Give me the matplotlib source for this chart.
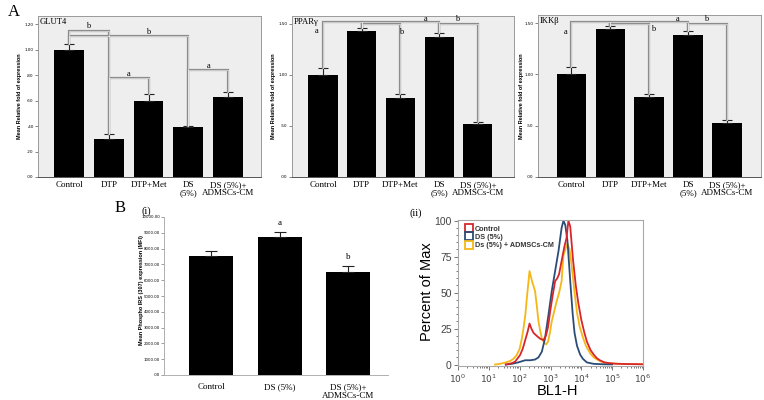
import numpy as np
import matplotlib
matplotlib.use('Agg')
import matplotlib.pyplot as plt
from matplotlib.ticker import FuncFormatter, MultipleLocator, LogLocator, NullFormatter
from matplotlib.lines import Line2D

# ---------------- data ----------------
groups = ["Control", "DTP", "DTP+Met", "DS\n(5%)", "DS (5%)+\nADMSCs-CM"]

glut4_mean = [1.00, 0.30, 0.60, 0.39, 0.63]
glut4_err = [0.04, 0.035, 0.055, 0.01, 0.04]
pparg_mean = [1.00, 1.43, 0.77, 1.37, 0.52]
pparg_err = [0.07, 0.03, 0.04, 0.04, 0.02]
ikkb_mean = [1.00, 1.44, 0.78, 1.38, 0.53]
ikkb_err = [0.07, 0.03, 0.03, 0.04, 0.03]

# significance brackets: (group i, group j, bracket level, letter, letter x, letter y)
glut4_sig = [(0, 1, 1.145, "b", 0.48, 1.185), (0, 3, 1.105, "b", 2.0, 1.14),
             (1, 2, 0.776, "a", 1.5, 0.81), (3, 4, 0.84, "a", 3.5, 0.87)]
pparg_sig = [(0, 1, 1.52, "a", -0.17, 1.43), (1, 2, 1.50, "b", 2.02, 1.42),
             (1, 3, 1.52, "a", 2.66, 1.545), (3, 4, 1.50, "b", 3.45, 1.545)]
ikkb_sig = [(0, 1, 1.51, "a", -0.15, 1.41), (1, 2, 1.49, "b", 2.1, 1.44),
            (1, 3, 1.51, "a", 2.74, 1.535), (3, 4, 1.49, "b", 3.46, 1.535)]

irs_groups = ["Control", "DS (5%)", "DS (5%)+\nADMSCs-CM"]
irs_mean = [7530, 8750, 6550]
irs_err = [310, 320, 360]
irs_letters = ["", "a", "b"]

# flow histogram (log10 BL1-H, percent of max)
ctrl_log = [1.55, 1.75, 1.85, 2.01, 2.10, 2.18, 2.26, 2.32, 2.38, 2.45, 2.55, 2.66, 2.77, 2.85,
            2.92, 2.99, 3.07, 3.15, 3.22, 3.28, 3.36, 3.45, 3.52, 3.58, 3.64, 3.73, 3.82, 3.90,
            4.00, 4.10, 4.18, 4.30, 4.40, 4.50, 4.60, 4.75, 4.90, 5.10, 5.40, 5.70, 6.00]
ctrl_pct = [0, 1, 2, 6.5, 11, 17, 23, 28.5, 25, 22, 20, 18, 17, 20,
            26, 37, 48, 58, 60, 63, 72, 82, 88, 100, 96, 73, 55, 43,
            31, 22, 16, 10, 7, 4.5, 3, 1.5, 1, 0.6, 0.4, 0.3, 0.2]
ds_log = [1.55, 1.75, 1.95, 2.18, 2.35, 2.50, 2.61, 2.72, 2.82, 2.93, 3.04, 3.15, 3.26, 3.36,
          3.42, 3.48, 3.55, 3.64, 3.72, 3.78, 3.86, 3.96, 4.05, 4.18, 4.40, 4.70, 5.00]
ds_pct = [0, 0.5, 1.5, 3, 3, 3.5, 5, 9, 18, 34, 51, 65, 79, 95,
          100, 97, 86, 58, 35, 22, 13, 7, 4, 1.5, 0.5, 0.2, 0.1]
cm_log = [1.20, 1.36, 1.55, 1.69, 1.80, 1.90, 2.00, 2.07, 2.13, 2.18, 2.25, 2.32, 2.40, 2.50,
          2.56, 2.61, 2.67, 2.72, 2.80, 2.86, 2.92, 2.98, 3.04, 3.12, 3.20, 3.28, 3.36, 3.42,
          3.48, 3.55, 3.62, 3.70, 3.78, 3.86, 3.95, 4.05, 4.15, 4.28, 4.40, 4.55, 4.70, 4.90,
          5.20, 5.50, 5.80, 6.00]
cm_pct = [0, 0.5, 1.5, 2.5, 4, 6.5, 11, 18, 26, 34, 50, 65, 58, 51,
          40, 30, 23, 18, 15, 14, 16, 22, 30, 37, 44, 50, 58, 76,
          80, 84, 80, 66, 50, 36, 26, 19, 13, 8, 5, 3, 1.5, 1,
          0.5, 0.4, 0.3, 0.2]
flow_labels = ["Control", "DS (5%)", "Ds (5%) + ADMSCs-CM"]

# ---------------- styling ----------------
W, H = 764, 400
serif = "Liberation Serif"
sans = "Liberation Sans"
narrow = ["Liberation Sans Narrow", "Liberation Sans"]
panel_bg = "#eeeeee"
frame = "#9a9a9a"

fig = plt.figure(figsize=(W / 100, H / 100), dpi=100)


def px_axes(left, top, right, bottom):
    return fig.add_axes([left / W, 1 - bottom / H, (right - left) / W, (bottom - top) / H])


def spss_fmt(v, pos):
    s = f"{v:.2f}"
    return s[1:] if s.startswith("0") else s


def draw_bracket(ax, x1, x2, top, y1, y2):
    xs = [x1, x1, x2, x2]
    ys = [y1, top, top, y2]
    ax.plot(xs, ys, color="#8c8c8c", lw=1.6, solid_joinstyle="miter", zorder=4)
    ax.plot(xs, ys, color="#f2f2f2", lw=0.45, solid_joinstyle="miter", zorder=5)


def gene_panel(rect, means, errs, sig, name, ymax, ystep, xlim, ylab_x):
    ax = px_axes(*rect)
    x = np.arange(len(means))
    ax.set_facecolor(panel_bg)
    ax.bar(x, means, width=0.75, color="black", zorder=3)
    ax.errorbar(x, means, yerr=[[0] * len(errs), errs], fmt="none", ecolor="#222222",
                elinewidth=0.8, capsize=3.5, capthick=0.8, zorder=3)
    tops = [m + e for m, e in zip(means, errs)]
    for i, j, lev, letter, lx, ly in sig:
        draw_bracket(ax, i, j, lev, tops[i], tops[j])
        ax.text(lx, ly, letter, ha="center", va="center", fontsize=6, family=serif, zorder=6)
    ax.set_xlim(*xlim)
    ax.set_ylim(0, ymax)
    ax.yaxis.set_major_locator(MultipleLocator(ystep))
    ax.yaxis.set_major_formatter(FuncFormatter(spss_fmt))
    ax.tick_params(axis="y", labelsize=3, length=2.2, width=0.5, color="#555555", pad=1)
    ax.set_xticks(x)
    ax.set_xticklabels(groups, fontsize=6.5, family=serif, linespacing=1.05)
    ax.tick_params(axis="x", length=0, pad=3)
    for s in ax.spines.values():
        s.set_color(frame)
        s.set_linewidth(0.7)
    ax.spines["bottom"].set_color("#555555")
    ax.text(0.008, 0.985, name, transform=ax.transAxes, ha="left", va="top",
            fontsize=6.2, family=serif, zorder=6)
    fig.text(ylab_x / W, 1 - 96 / H, "Mean Relative fold of expression", rotation=90,
             ha="center", va="center", fontsize=4, fontweight="bold", family=sans)
    return ax


# ---------------- panel A ----------------
gene_panel((38, 16, 261, 177), glut4_mean, glut4_err, glut4_sig, "GLUT4", 1.263, 0.2,
           (-0.78, 4.83), 20)
gene_panel((292, 16, 514, 177), pparg_mean, pparg_err, pparg_sig, "PPARγ", 1.578, 0.5,
           (-0.8, 4.93), 273)
gene_panel((538, 15, 761, 177), ikkb_mean, ikkb_err, ikkb_sig, "IKKβ", 1.578, 0.5,
           (-0.85, 4.87), 522)

# ---------------- panel B(i) ----------------
ax = px_axes(164, 217, 388, 375)
xb = np.arange(len(irs_mean))
ax.bar(xb, irs_mean, width=0.64, color="black", zorder=3)
ax.errorbar(xb, irs_mean, yerr=[[0] * len(irs_err), irs_err], fmt="none", ecolor="#222222",
            elinewidth=0.8, capsize=4, capthick=0.8, zorder=3)
for i, letter in enumerate(irs_letters):
    if letter:
        ax.text(xb[i], irs_mean[i] + irs_err[i] + 580, letter, ha="center", va="center",
                fontsize=6.5, family=serif)
ax.set_xlim(-0.69, 2.58)
ax.set_ylim(0, 10000)
ax.yaxis.set_major_locator(MultipleLocator(1000))
ax.yaxis.set_major_formatter(FuncFormatter(spss_fmt))
ax.tick_params(axis="y", labelsize=2.8, length=2, width=0.5, color="#777777", pad=1)
ax.set_xticks(xb)
ax.set_xticklabels(irs_groups, fontsize=6.5, family=serif, linespacing=1.05)
ax.tick_params(axis="x", length=0, pad=6)
ax.spines["top"].set_visible(False)
ax.spines["right"].set_visible(False)
for s in ("left", "bottom"):
    ax.spines[s].set_color("#b0b0b0")
    ax.spines[s].set_linewidth(0.7)
fig.text(142 / W, 1 - 290 / H, "Mean Phospho IRS (307) expression (MFI)", rotation=90,
         ha="center", va="center", fontsize=4, fontweight="bold", family=sans)

# ---------------- panel B(ii) ----------------
ax = px_axes(458, 220, 643, 366)
colors = ["#d7262b", "#2c4c78", "#f5b716"]
ax.plot(10 ** np.array(cm_log), cm_pct, color=colors[2], lw=1.3)
ax.plot(10 ** np.array(ds_log), ds_pct, color=colors[1], lw=1.3)
ax.plot(10 ** np.array(ctrl_log), ctrl_pct, color=colors[0], lw=1.3)
ax.set_xscale("log")
ax.set_xlim(1, 1e6)
ax.set_ylim(-1, 100.5)
ax.set_yticks([0, 25, 50, 75, 100])
ax.yaxis.set_minor_locator(MultipleLocator(5))
ax.xaxis.set_major_locator(LogLocator(base=10, numticks=10))
ax.xaxis.set_minor_locator(LogLocator(base=10, subs=np.arange(2, 10), numticks=10))
ax.xaxis.set_minor_formatter(NullFormatter())
ax.tick_params(which="both", colors="#444444", width=0.5)
ax.tick_params(axis="y", labelsize=7.5)
ax.tick_params(axis="x", labelsize=6.5)
ax.tick_params(which="major", length=3, pad=1.5)
ax.tick_params(which="minor", length=1.5)
for lab in ax.get_yticklabels():
    lab.set_family(narrow)
for s in ax.spines.values():
    s.set_color("#a8a8a8")
    s.set_linewidth(0.8)
handles = [Line2D([], [], marker="s", ls="none", mfc="none", mec=c, mew=1.3, ms=5.5)
           for c in colors]
leg = ax.legend(handles, flow_labels, loc="upper left", bbox_to_anchor=(0.02, 0.99),
                frameon=False, handlelength=0.8, handletextpad=0.4, labelspacing=0.15,
                borderpad=0.1, prop={"family": sans, "size": 5.2, "weight": "bold"})
for t in leg.get_texts():
    t.set_color("#333333")
fig.text(427 / W, 1 - 292 / H, "Percent of Max", rotation=90, ha="center", va="center",
         fontsize=10.5, family=narrow)
fig.text(557 / W, 1 - 391 / H, "BL1-H", ha="center", va="center", fontsize=10.5,
         family=narrow)

# ---------------- panel letters ----------------
fig.text(8 / W, 1 - 12 / H, "A", fontsize=12, family=serif, va="center")
fig.text(120 / W, 1 - 208 / H, "B", fontsize=12, family=serif, va="center", ha="center")
fig.text(146 / W, 1 - 211 / H, "(i)", fontsize=7.5, family=serif, va="center", ha="center")
fig.text(416 / W, 1 - 213 / H, "(ii)", fontsize=7.5, family=serif, va="center", ha="center")

fig.savefig("out.png", dpi=100)
